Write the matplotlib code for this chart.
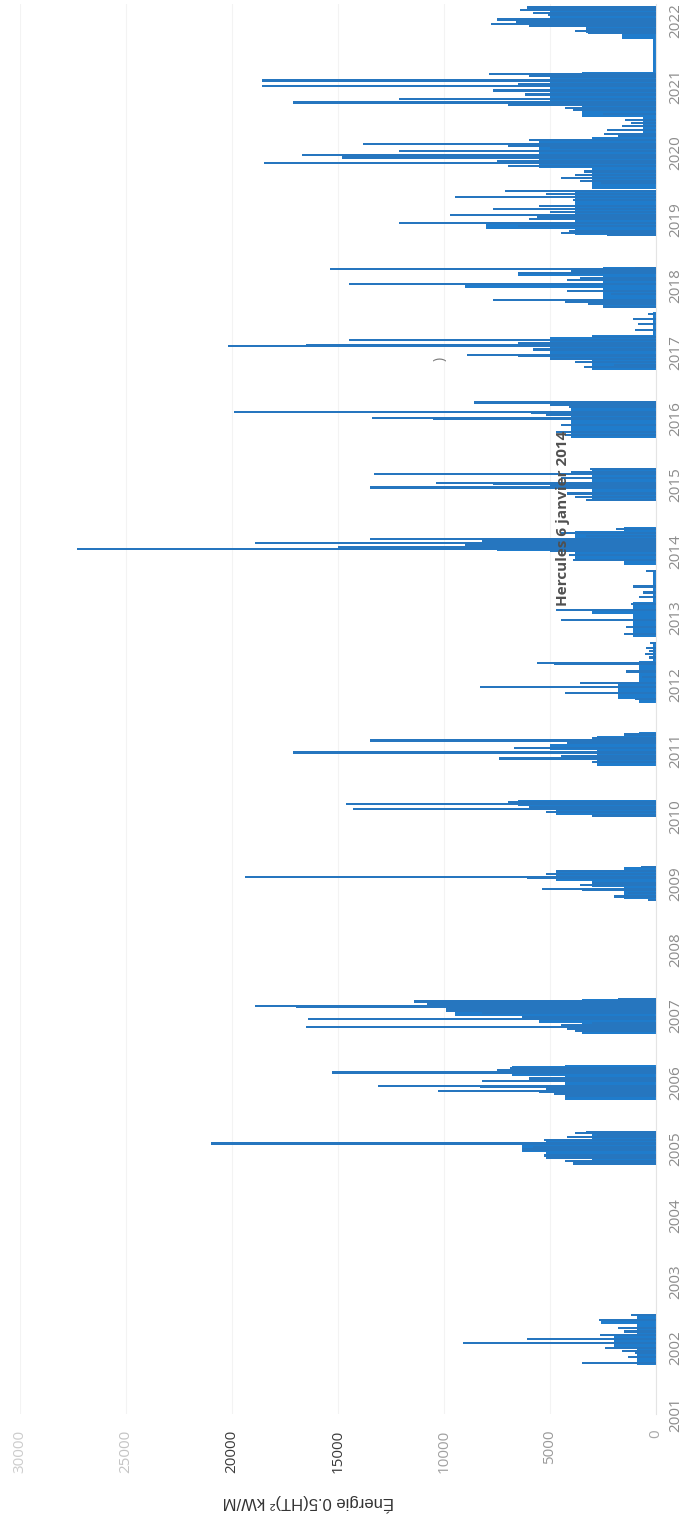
import matplotlib
matplotlib.use('Agg')
import matplotlib.pyplot as plt

plt.rcParams['font.family'] = ['Open Sans', 'DejaVu Sans']

# Winter storm energy (decimal years)
# dense part of each winter: (start, end, level)
blocks = [
    (2001.74, 2002.52, 900), (2002.36, 2002.44, 2600), (2002.0, 2002.2, 2000),
    (2004.76, 2005.27, 3000), (2004.9, 2005.13, 5200), (2004.96, 2005.1, 6300),
    (2005.74, 2006.26, 4300), (2006.1, 2006.25, 6800),
    (2006.73, 2007.25, 3500), (2007.0, 2007.22, 9500), (2006.9, 2007.0, 5500),
    (2008.76, 2009.25, 1500), (2008.95, 2009.2, 3000), (2009.03, 2009.2, 4700),
    (2010.0, 2010.26, 2800), (2010.17, 2010.25, 6500), (2010.03, 2010.12, 4700),
    (2010.76, 2011.22, 2800), (2011.22, 2011.28, 800), (2011.0, 2011.1, 5000),
    (2011.71, 2012.35, 800), (2011.78, 2012.0, 1800), (2012.35, 2012.64, 150),
    (2012.71, 2013.24, 1100), (2013.05, 2013.12, 3000), (2013.24, 2013.72, 120),
    (2013.79, 2014.37, 1500), (2013.87, 2014.3, 3800), (2014.0, 2014.18, 7500),
    (2014.75, 2015.25, 3000),
    (2015.7, 2016.25, 4000),
    (2016.73, 2017.26, 3000), (2016.88, 2017.22, 5000), (2017.26, 2017.6, 150),
    (2017.66, 2018.28, 2500), (2017.97, 2018.03, 9000), (2018.15, 2018.2, 6500),
    (2018.76, 2019.44, 3800), (2018.85, 2018.96, 8000),
    (2019.45, 2020.24, 3000), (2019.78, 2020.18, 5500), (2020.24, 2020.54, 600),
    (2020.54, 2021.22, 3500), (2020.7, 2021.2, 5000), (2021.22, 2021.72, 150),
    (2021.72, 2022.2, 1600), (2021.8, 2022.2, 3300), (2021.9, 2022.18, 5000),
]

# individual storm days
spike_dates = [
    2002.50, 2002.42, 2002.30, 2002.25, 2002.20, 2002.14, 2002.08, 2002.00, 2001.96,
    2001.92, 2001.86, 2001.78,
    2005.26, 2005.24, 2005.21, 2005.18, 2005.13, 2005.08, 2005.07, 2005.02, 2004.99,
    2004.90, 2004.86, 2004.82, 2004.78,
    2006.22, 2006.19, 2006.15, 2006.14, 2006.06, 2006.02, 2005.95, 2005.94, 2005.91,
    2005.87, 2005.86, 2005.82, 2005.79,
    2007.26, 2007.22, 2007.18, 2007.15, 2007.14, 2007.11, 2007.08, 2007.04, 2006.99,
    2006.95, 2006.90, 2006.86, 2006.83, 2006.80, 2006.77,
    2009.25, 2009.19, 2009.14, 2009.10, 2009.09, 2009.08, 2009.01, 2008.97, 2008.92,
    2008.90, 2008.85, 2008.80, 2008.75,
    2010.22, 2010.19, 2010.15, 2010.12, 2010.08, 2010.02,
    2011.24, 2011.18, 2011.15, 2011.12, 2011.04, 2010.97, 2010.92, 2010.88, 2010.82,
    2012.62, 2012.55, 2012.50, 2012.45, 2012.40,
    2012.32, 2012.31, 2012.19, 2012.11, 2012.01, 2011.96, 2011.86, 2011.78,
    2013.70, 2013.47, 2013.38, 2013.31,
    2013.20, 2013.11, 2012.96, 2012.86, 2012.76,
    2014.34, 2014.27, 2014.23, 2014.18, 2014.15, 2014.13, 2014.09, 2014.06, 2014.04,
    2014.00, 2013.94, 2013.87,
    2015.24, 2015.20, 2015.17, 2015.10, 2015.03, 2015.02, 2015.00, 2014.96, 2014.87,
    2014.82, 2014.77,
    2016.24, 2016.20, 2016.18, 2016.10, 2016.09, 2016.05, 2016.01, 2016.00, 2015.90,
    2015.80, 2015.75,
    2017.58, 2017.50, 2017.42, 2017.33,
    2017.23, 2017.18, 2017.14, 2017.10, 2017.09, 2017.04, 2016.95, 2016.94, 2016.89,
    2016.85, 2016.80, 2016.77,
    2018.27, 2018.25, 2018.22, 2018.19, 2018.12, 2018.09, 2018.02, 2017.92, 2017.88,
    2017.79, 2017.76, 2017.72, 2017.68,
    2019.43, 2019.38, 2019.34, 2019.29, 2019.20, 2019.16, 2019.11, 2019.07, 2019.04,
    2019.01, 2018.95, 2018.90, 2018.83, 2018.80, 2018.77,
    2020.50, 2020.45, 2020.40, 2020.35, 2020.28, 2020.25,
    2020.20, 2020.14, 2020.10, 2020.08, 2020.03, 2019.97, 2019.93, 2019.88, 2019.85,
    2019.80, 2019.72, 2019.67, 2019.62, 2019.58, 2019.55,
    2021.19, 2021.16, 2021.14, 2021.09, 2021.08, 2021.04, 2021.01, 2020.94, 2020.88,
    2020.81, 2020.76, 2020.72, 2020.68, 2020.64, 2020.59,
    2022.19, 2022.15, 2022.11, 2022.08, 2022.01, 2021.97, 2021.94, 2021.91, 2021.87,
    2021.84, 2021.81,
]
spike_values = [
    1200, 2700, 1800, 1500, 2640, 6080, 9100, 2400, 1600,
    1000, 1300, 3500,
    3300, 3800, 2800, 4200, 5300, 21000, 10500, 5800, 6300,
    5300, 5200, 4300, 3900,
    6900, 7500, 15300, 9400, 6000, 8200, 13100, 8300, 5200,
    10300, 5500, 4800, 4300,
    1800, 11400, 10800, 18900, 17000, 9900, 9900, 8200, 6300,
    16400, 3000, 4500, 16500, 4200, 3800,
    700, 4700, 5200, 19400, 7800, 6100, 3000, 3600, 5400,
    3500, 1300, 2000, 400,
    7000, 14600, 6000, 14300, 5200, 3000,
    1500, 3000, 13500, 4200, 6700, 17100, 4500, 7400, 3000,
    300, 450, 350, 500, 350,
    5600, 4800, 1400, 650, 3600, 8300, 4300, 1000,
    450, 1100, 600, 800,
    1200, 4700, 4500, 1400, 1500,
    1900, 4500, 3300, 13500, 8200, 18900, 9000, 15000, 27300,
    5000, 4100, 3900,
    3100, 4000, 13300, 4500, 10400, 7700, 5000, 13500, 4200,
    3800, 3300,
    8600, 5000, 4100, 19900, 5900, 5200, 13400, 10500, 4500,
    4700, 4300,
    400, 1100, 850, 1000,
    3000, 14500, 6500, 16500, 20200, 5800, 8900, 6500, 5000,
    3800, 2000, 3400,
    1000, 15400, 4000, 6500, 3600, 4200, 14500, 4200, 2100,
    7700, 4300, 3200, 2500,
    7100, 5200, 9500, 3900, 5500, 7700, 5000, 9700, 5600,
    6000, 12100, 6500, 4100, 4500, 2300,
    1450, 1180, 1600, 2330, 2430, 1800,
    6000, 13800, 7000, 5000, 12100, 16700, 14800, 7500, 18500,
    7000, 3400, 3800, 4500, 3600, 2600,
    7900, 6000, 5000, 18600, 10000, 6500, 18600, 7700, 6200,
    12100, 17100, 7000, 4300, 3900, 2500,
    6100, 6400, 5800, 5100, 7500, 6600, 7800, 6000, 3300,
    3800, 3200,
]

years = list(range(2001, 2023))
value_ticks = [0, 5000, 10000, 15000, 20000, 25000, 30000]
value_tick_colors = ['#a8a8a8', '#9a9a9a', '#a0a0a0', '#3a3a3a', '#3a3a3a', '#c4c4c4', '#cccccc']

fig = plt.figure(figsize=(6.9, 15.27), dpi=100)
ax = fig.add_axes([0.0290, 0.0737, 0.9217, 0.9240])

centers = [(s + e) / 2 for s, e, v in blocks]
heights = [e - s for s, e, v in blocks]
levels = [v for s, e, v in blocks]
ax.barh(centers, levels, height=heights, color='#1f7ccc', linewidth=0, zorder=2)
ax.barh(spike_dates, spike_values, height=0.032, color='#2676bf', linewidth=0, zorder=3)

ax.set_xlim(30000, 0)
ax.set_ylim(2001, 2022.25)

ax.set_xticks(value_ticks)
ax.set_xticklabels([str(v) for v in value_ticks], rotation=90, fontsize=11)
for lbl, c in zip(ax.get_xticklabels(), value_tick_colors):
    lbl.set_color(c)
ax.set_yticks(years)
ax.set_yticklabels([str(y) for y in years], rotation=90, fontsize=11, color='#8c8c8c',
                   va='center')
ax.yaxis.tick_right()
ax.tick_params(axis='x', length=0, pad=11)
ax.tick_params(axis='y', length=0, pad=9)

ax.grid(axis='x', color='#f3f3f3', linewidth=0.8, zorder=0)
for side in ['top', 'left', 'bottom']:
    ax.spines[side].set_visible(False)
ax.spines['right'].set_color('#e4e4e4')

ax.text(4400, 2014.5, 'Hercules 6 janvier 2014', rotation=90, ha='center', va='center',
        fontsize=11, fontweight='bold', color='#505050', zorder=5)
ax.text(10200, 2016.9, ')', rotation=90, ha='center', va='center', fontsize=10,
        color='#777777')

fig.text(308 / 690, 1 - 1503 / 1527, 'Énergie 0.5(HT)² kW/M', rotation=180,
         ha='center', va='center', fontsize=12, color='#333333',
         family=['Liberation Sans Narrow', 'Liberation Sans', 'DejaVu Sans'])

fig.savefig('out.png', dpi=100)
